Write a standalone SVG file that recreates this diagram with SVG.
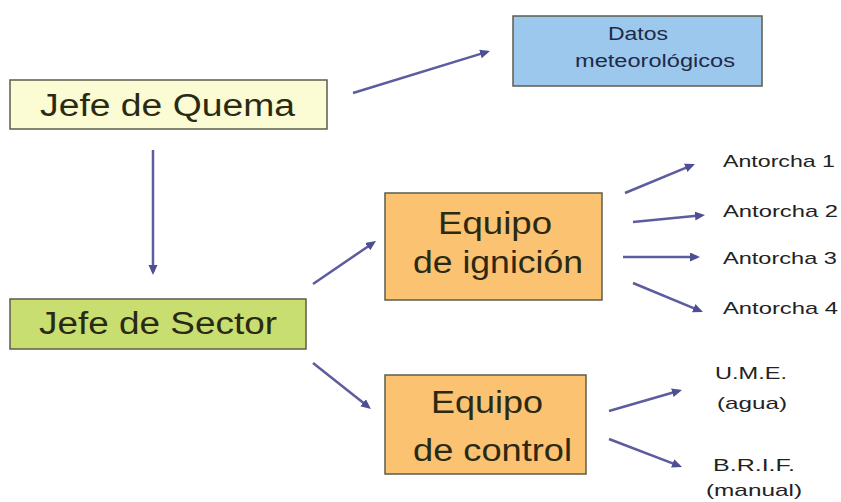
<svg xmlns="http://www.w3.org/2000/svg" width="841" height="502" viewBox="0 0 841 502">
<style>
  .box{stroke:#5c5c4c;stroke-width:1.5}
  .big{font-family:"Liberation Sans",Arial,sans-serif;font-size:31px;fill:#2a2a14}
  .small{font-family:"Liberation Sans",Arial,sans-serif;font-size:17px;fill:#222}
  .datos{font-family:"Liberation Sans",Arial,sans-serif;font-size:18px;fill:#1e2a48}
  .conn line{stroke:#5c5c9e;stroke-width:2.5;fill:none;marker-end:url(#ah)}
</style>
<defs>
  <marker id="ah" markerUnits="userSpaceOnUse" markerWidth="12" markerHeight="10" refX="7" refY="4.5" orient="auto" viewBox="0 0 12 10">
    <path d="M0,0 L10,4.5 L0,9 z" fill="#4e4e92"/>
  </marker>
</defs>
<rect width="841" height="502" fill="#ffffff"/>

<g id="jefe-quema">
  <rect class="box" x="10" y="80" width="317" height="49" fill="#fbfbd4"/>
  <text class="big" x="40" y="116" textLength="255" lengthAdjust="spacingAndGlyphs">Jefe de Quema</text>
</g>

<g id="datos">
  <rect class="box" x="513" y="16" width="249" height="70" fill="#9cc8ee" stroke="#5a6a7a"/>
  <text class="datos" x="608" y="40" textLength="60" lengthAdjust="spacingAndGlyphs">Datos</text>
  <text class="datos" x="575" y="67" textLength="160" lengthAdjust="spacingAndGlyphs">meteorológicos</text>
</g>

<g id="jefe-sector">
  <rect class="box" x="10" y="299" width="296" height="50" fill="#c8de70"/>
  <text class="big" x="39" y="334" textLength="238" lengthAdjust="spacingAndGlyphs">Jefe de Sector</text>
</g>

<g id="equipo-ignicion">
  <rect class="box" x="385" y="193" width="217" height="107" fill="#fbc272"/>
  <text class="big" x="438" y="234" textLength="114" lengthAdjust="spacingAndGlyphs">Equipo</text>
  <text class="big" x="413" y="273" textLength="170" lengthAdjust="spacingAndGlyphs">de ignición</text>
</g>

<g id="equipo-control">
  <rect class="box" x="385" y="375" width="201" height="99" fill="#fbc272"/>
  <text class="big" x="431" y="413" textLength="112" lengthAdjust="spacingAndGlyphs">Equipo</text>
  <text class="big" x="413" y="461" textLength="159" lengthAdjust="spacingAndGlyphs">de control</text>
</g>

<g id="antorcha-1"><text class="small" x="723" y="167" textLength="112" lengthAdjust="spacingAndGlyphs">Antorcha 1</text></g>
<g id="antorcha-2"><text class="small" x="723" y="217" textLength="115" lengthAdjust="spacingAndGlyphs">Antorcha 2</text></g>
<g id="antorcha-3"><text class="small" x="723" y="264" textLength="114" lengthAdjust="spacingAndGlyphs">Antorcha 3</text></g>
<g id="antorcha-4"><text class="small" x="723" y="314" textLength="115" lengthAdjust="spacingAndGlyphs">Antorcha 4</text></g>

<g id="ume">
  <text class="small" x="751" y="379" text-anchor="middle" textLength="72" lengthAdjust="spacingAndGlyphs">U.M.E.</text>
  <text class="small" x="752" y="409" text-anchor="middle" textLength="70" lengthAdjust="spacingAndGlyphs">(agua)</text>
</g>

<g id="brif">
  <text class="small" x="754" y="471" text-anchor="middle" textLength="82" lengthAdjust="spacingAndGlyphs">B.R.I.F.</text>
  <text class="small" x="754" y="496" text-anchor="middle" textLength="96" lengthAdjust="spacingAndGlyphs">(manual)</text>
</g>

<g id="connectors" class="conn">
  <line x1="353" y1="93" x2="487.1" y2="51.9"/>
  <line x1="153" y1="150" x2="153" y2="272"/>
  <line x1="313" y1="284" x2="373.5" y2="242.7"/>
  <line x1="313" y1="363" x2="368.6" y2="407.1"/>
  <line x1="625" y1="193" x2="692.2" y2="165.1"/>
  <line x1="633" y1="222" x2="702" y2="215.3"/>
  <line x1="623" y1="257" x2="697" y2="257"/>
  <line x1="633" y1="283" x2="700.2" y2="310.9"/>
  <line x1="609" y1="411" x2="679.1" y2="390.8"/>
  <line x1="609" y1="439" x2="679.2" y2="465.9"/>
</g>
</svg>
